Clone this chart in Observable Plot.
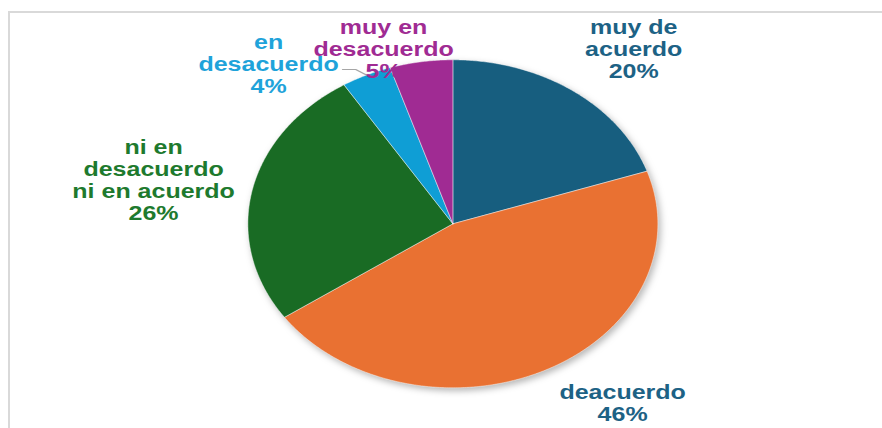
<!DOCTYPE html>
<html>
<head>
<meta charset="utf-8">
<script src="https://cdn.jsdelivr.net/npm/d3@7"></script>
<script src="https://cdn.jsdelivr.net/npm/@observablehq/plot@0.6"></script>
<style>
  html, body { margin: 0; padding: 0; background: #fff; }
  #wrap { position: relative; width: 882px; height: 428px; overflow: hidden; }
  #frame { position: absolute; left: 8px; top: 11px; right: -20px; bottom: -20px;
           border-left: 2px solid #d9d9d9; border-top: 2px solid #d9d9d9; pointer-events: none; }
</style>
</head>
<body>
<div id="wrap"><div id="frame"></div></div>
<script>
// ---- data ----
const labels = ["muy de acuerdo", "deacuerdo", "ni en desacuerdo ni en acuerdo", "en desacuerdo", "muy en desacuerdo"];
const values = [20, 46, 26, 4, 5];
const labelLines = ["muy de\nacuerdo", "deacuerdo", "ni en\ndesacuerdo\nni en acuerdo", "en\ndesacuerdo", "muy en\ndesacuerdo"];
const sliceColors = ["#175E7F", "#E97132", "#196B24", "#0F9ED5", "#A02B93"];
const textColors = ["#1D6285", "#1D6285", "#1E7A2E", "#1FA3DA", "#A02B93"];

// ---- layout (chart units: 1 = pie radius) ----
const labelX = [0.882, 0.828, -1.460, -0.899, -0.338];
const labelY = [1.069, -1.090, 0.270, 0.977, 1.069];
const leaderIndex = 3;
const leaderStart = [[-0.538, 0.941], [-0.474, 0.941]];

const stretch = 1.25;          // the picture is stretched horizontally
const W = 882 / stretch, H = 428;
const cx = 361.8, cy = 223.3, R = 164;

const data = labels.map((label, i) => ({label, value: values[i]}));
const arcs = d3.pie().sort(null).value(d => d.value).startAngle(0).endAngle(2 * Math.PI)(data);

const piePts = [];
for (const a of arcs) {
  const n = Math.max(2, Math.ceil((a.endAngle - a.startAngle) / (Math.PI / 360)));
  piePts.push({label: a.data.label, x: 0, y: 0});
  for (let k = 0; k <= n; k++) {
    const t = a.startAngle + (a.endAngle - a.startAngle) * k / n;
    piePts.push({label: a.data.label, x: Math.sin(t), y: Math.cos(t)});
  }
  piePts.push({label: a.data.label, x: 0, y: 0});
}

const la = arcs[leaderIndex];
const mid = (la.startAngle + la.endAngle) / 2;
const leader = [...leaderStart.map(([x, y]) => ({x, y})), {x: Math.sin(mid), y: Math.cos(mid)}];

const textMarks = arcs.map((a, i) => Plot.text([{x: labelX[i], y: labelY[i], t: `${labelLines[i]}\n${values[i]}%`}], {
  x: "x", y: "y", text: "t", fill: textColors[i], textAnchor: "middle", lineAnchor: "middle",
  lineHeight: 1.1, fontSize: 20, fontWeight: "bold"
}));

const plot = Plot.plot({
  width: W, height: H,
  marginTop: 0, marginRight: 0, marginBottom: 0, marginLeft: 0,
  x: {domain: [-cx / R, (W - cx) / R], axis: null},
  y: {domain: [-(H - cy) / R, cy / R], axis: null},
  color: {domain: labels, range: sliceColors},
  style: {fontFamily: "'Liberation Sans', Arial, sans-serif", background: "transparent", overflow: "visible"},
  marks: [
    Plot.line(piePts, {x: "x", y: "y", z: "label", fill: "label", stroke: "white", strokeWidth: 0.4, curve: "linear"}),
    Plot.line(leader, {x: "x", y: "y", stroke: "#a6a6a6", strokeWidth: 1.2}),
    ...textMarks
  ]
});

plot.setAttribute("width", 882);
plot.setAttribute("preserveAspectRatio", "none");
plot.style.width = "882px";
plot.style.height = "428px";
plot.style.maxWidth = "none";
plot.style.position = "absolute";
plot.style.left = "0";
plot.style.top = "0";
const pieG = plot.querySelector('g[aria-label="line"]');
if (pieG) pieG.style.filter = "drop-shadow(2px 3px 3px rgba(0,0,0,0.28))";
const wrap = document.getElementById("wrap");
wrap.insertBefore(plot, wrap.firstChild);
</script>
</body>
</html>
